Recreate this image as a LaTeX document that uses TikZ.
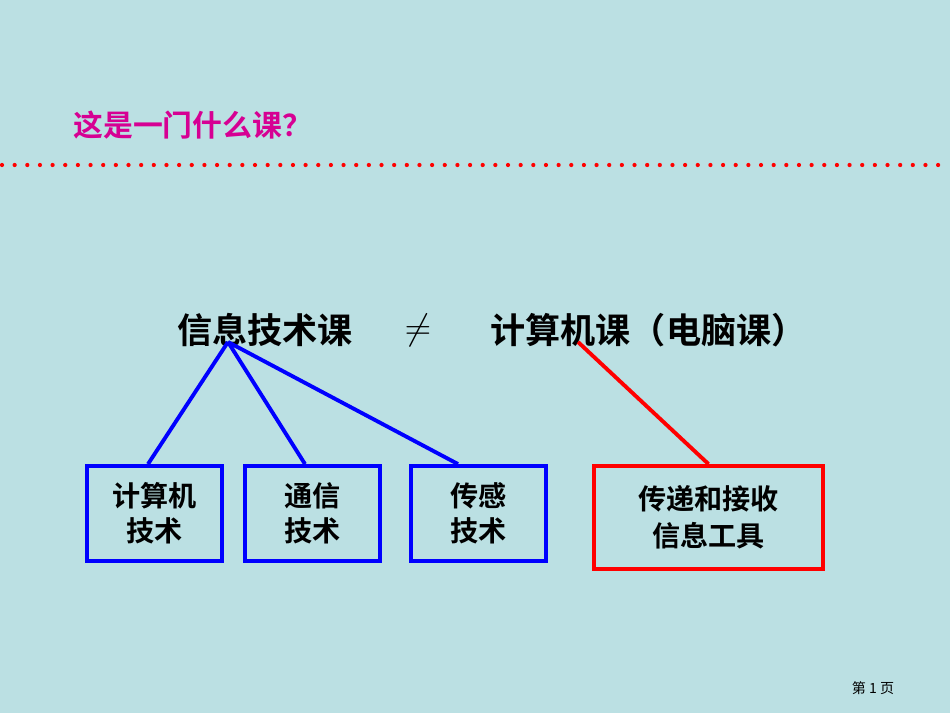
\documentclass[tikz,border=0pt]{standalone}
\usepackage{fontspec}
\newfontfamily\cjk[BoldFont={Noto Sans CJK SC Bold}]{Noto Sans CJK SC}
\definecolor{bgcyan}{RGB}{187,224,227}
\definecolor{titlemag}{RGB}{214,0,147}
\newlength\px \setlength\px{0.02cm}
\tikzset{
  techbox/.style={draw=blue, line width=2.2pt, minimum width=135\px, minimum height=95\px, align=center, font=\cjk\bfseries\fontsize{16}{20}\selectfont, inner sep=0pt},
  toolbox/.style={draw=red, line width=2.2pt, minimum width=229\px, minimum height=103\px, align=center, font=\cjk\bfseries\fontsize{16}{21}\selectfont, inner sep=0pt},
  bigtext/.style={font=\cjk\bfseries\fontsize{20}{24}\selectfont, inner sep=0pt},
}
\begin{document}
\begin{tikzpicture}[x=0.02cm,y=-0.02cm]
    \fill[bgcyan] (0,0) rectangle (950,713);
    \useasboundingbox (0,0) rectangle (950,713);

    \node[anchor=west, text=titlemag, font=\cjk\bfseries\fontsize{17}{20}\selectfont, inner sep=0pt] (title) at (73,125) {这是一门什么课？};
    \draw[red, line width=2.4pt, dash pattern=on 0pt off 7.2pt, line cap=round] (2,165)--(950,165);

    \node[bigtext] (neq) at (418,330) {$\neq$};
    \node[bigtext, anchor=west] (info) at (177,330) {信息技术课};
    \node[bigtext, anchor=west] (comp) at (490,330) {计算机课（电脑课）};
    \coordinate (inforoot) at (228,342);
    \coordinate (comproot) at (578,342);

    \node[techbox] (jsj) at (154.5,513.5) {计算机\\技术};
    \node[techbox] (tx) at (312.5,513.5) {通信\\技术};
    \node[techbox] (cg) at (478.5,513.5) {传感\\技术};
    \node[toolbox] (tool) at (708.5,517.5) {传递和接收\\信息工具};

    \draw[blue, line width=2.2pt] (inforoot)--(jsj.north-|148,0);
    \draw[blue, line width=2.2pt] (inforoot)--(tx.north-|305,0);
    \draw[blue, line width=2.2pt] (inforoot)--(cg.north-|458,0);
    \draw[red, line width=2.2pt] (comproot)--(tool.north);

    \node[font=\cjk\fontsize{8}{10}\selectfont, inner sep=0pt] (page) at (873,688) {第 1 页};
\end{tikzpicture}
\end{document}
